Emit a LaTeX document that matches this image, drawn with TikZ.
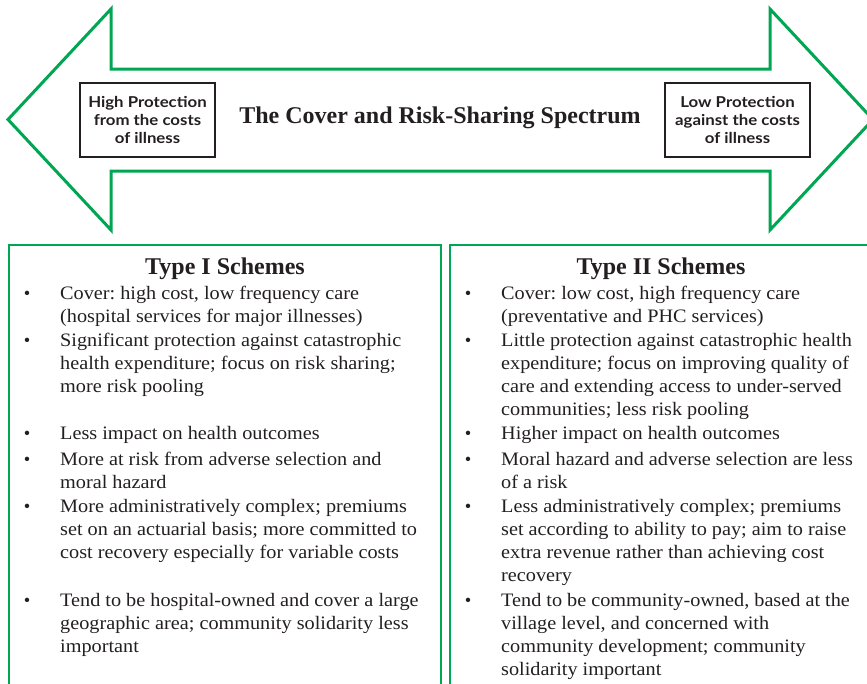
\documentclass[tikz,border=0pt]{standalone}
\usepackage{fontspec}
\setmainfont{Liberation Serif}
\newfontfamily\bodyfont[FakeStretch=1.065]{Liberation Serif}
\newfontfamily\labfont[FakeStretch=1.12]{Lato}
\definecolor{grn}{HTML}{00A651}
\definecolor{ink}{HTML}{231F20}
\frenchspacing
\begin{document}
\frenchspacing
\begin{tikzpicture}[x=1pt,y=-1pt,
  arrowline/.style={draw=grn, line width=3pt, line join=miter},
  labbox/.style={draw=ink, line width=1.1pt, minimum height=74pt, align=center, inner sep=0pt,
    text=ink, font=\labfont\bfseries\fontsize{15}{18}\selectfont},
  titletext/.style={anchor=base, text=ink, inner sep=0pt, font=\bfseries\fontsize{24}{28}\selectfont},
  schemebox/.style={draw=grn, line width=2pt, anchor=north west, inner sep=0pt, minimum height=470pt},
  head/.style={anchor=base, text=ink, inner sep=0pt, font=\bfseries\fontsize{24}{28}\selectfont},
  body/.style={anchor=base west, text=ink, inner sep=0pt, font=\bodyfont\fontsize{19}{23}\selectfont\frenchspacing},
  bul/.style={anchor=base, text=ink, inner sep=0pt, font=\fontsize{18.5}{23}\selectfont}
]
\useasboundingbox (0,0) rectangle (867,683);
\clip (0,0) rectangle (867,683);
% double arrow
\path[arrowline] (8,119.5) -- (111,9) -- (111,69) -- (770,69) -- (770,9) -- (873,119.5)
  -- (770,230) -- (770,171) -- (111,171) -- (111,230) -- cycle;
\node[labbox, minimum width=135pt] (hp) at (147.5,120) {High Protection\\from the costs\\of illness};
\node[labbox, minimum width=145pt] (lp) at (737.5,120) {Low Protection\\against the costs\\of illness};
\node[titletext] (title) at (440,123) {The Cover and Risk-Sharing Spectrum};
% scheme boxes
\node[schemebox, minimum width=432pt] (b1) at (8,244) {};
\node[schemebox, minimum width=430pt] (b2) at (449,244) {};
\node[head] (h1) at (225,274) {Type I Schemes};
\node[head] (h2) at (661,274) {Type II Schemes};
% bullets
\foreach \y [count=\i] in {299,346,439,465,512,606}
  \node[bul] (bl\i) at (27,\y) {\textbullet};
\foreach \y [count=\i] in {299,346,439,465,512,606}
  \node[bul] (br\i) at (468,\y) {\textbullet};
% left text
\foreach \y/\t [count=\i] in {
  299/{Cover: high cost, low frequency care},
  322/{(hospital services for major illnesses)},
  346/{Significant protection against catastrophic},
  369/{health expenditure; focus on risk sharing;},
  392/{more risk pooling},
  439/{Less impact on health outcomes},
  465/{More at risk from adverse selection and},
  488/{moral hazard},
  512/{More administratively complex; premiums},
  535/{set on an actuarial basis; more committed to},
  558/{cost recovery especially for variable costs},
  606/{Tend to be hospital-owned and cover a large},
  629/{geographic area; community solidarity less},
  652/{important}}
  \node[body] (L\i) at (60,\y) {\t};
% right text
\foreach \y/\t [count=\i] in {
  299/{Cover: low cost, high frequency care},
  322/{(preventative and PHC services)},
  346/{Little protection against catastrophic health},
  369/{expenditure; focus on improving quality of},
  392/{care and extending access to under-served},
  415/{communities; less risk pooling},
  439/{Higher impact on health outcomes},
  465/{Moral hazard and adverse selection are less},
  488/{of a risk},
  512/{Less administratively complex; premiums},
  535/{set according to ability to pay; aim to raise},
  558/{extra revenue rather than achieving cost},
  581/{recovery},
  606/{Tend to be community-owned, based at the},
  629/{village level, and concerned with},
  652/{community development; community},
  675/{solidarity important}}
  \node[body] (R\i) at (501,\y) {\t};
\end{tikzpicture}
\end{document}
